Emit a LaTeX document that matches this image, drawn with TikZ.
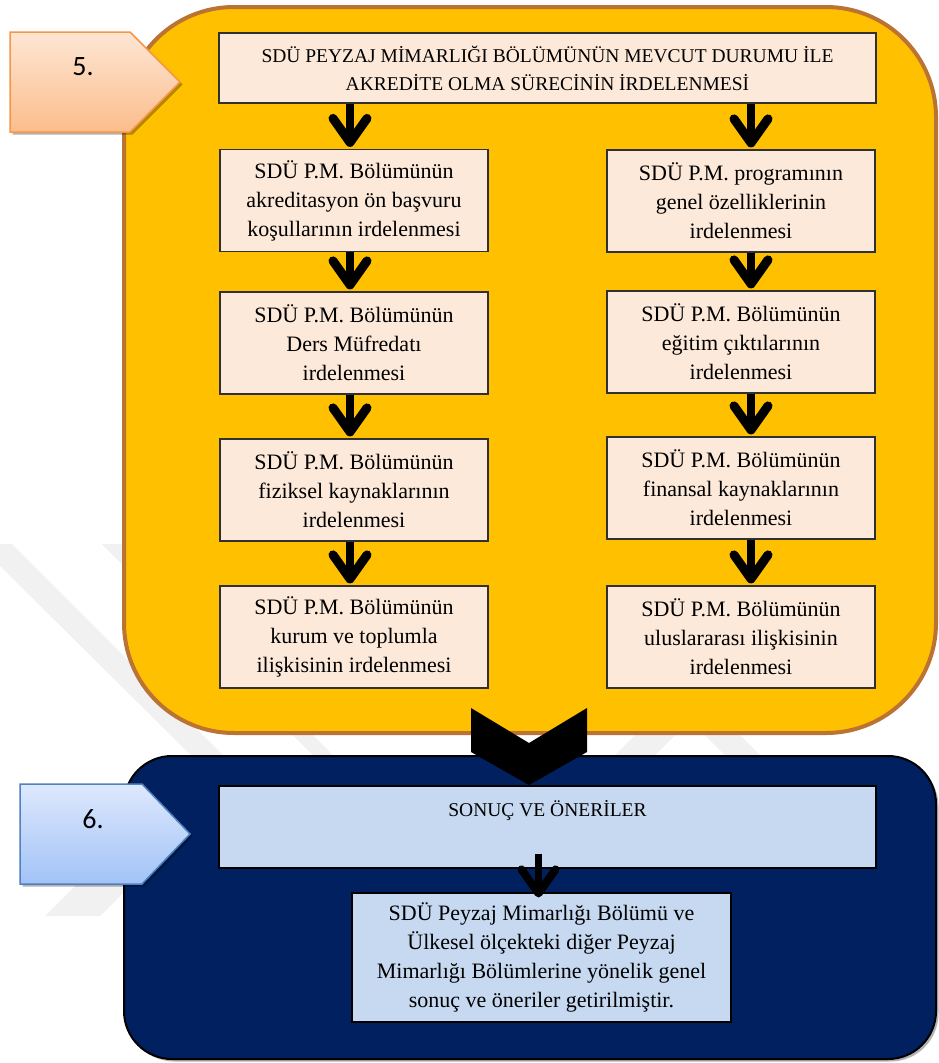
\documentclass[tikz,border=0pt]{standalone}
\usepackage{fontspec}
\setmainfont{Liberation Serif}
\newfontfamily\labelfont{Carlito}
\usetikzlibrary{arrows.meta,shadows,calc}
\definecolor{orfill}{HTML}{FFC000}
\definecolor{orline}{HTML}{BA7332}
\definecolor{peach}{HTML}{FDE9D9}
\definecolor{boxline}{HTML}{303030}
\definecolor{navy}{HTML}{002060}
\definecolor{lblue}{HTML}{C6D9F1}
\definecolor{wmark}{HTML}{F1F1F1}
\definecolor{pOtop}{HTML}{FDE6D4}
\definecolor{pObot}{HTML}{FBBD8C}
\definecolor{pOline}{HTML}{F79646}
\definecolor{pBtop}{HTML}{DDE8FD}
\definecolor{pBbot}{HTML}{A2C3F7}
\definecolor{pBline}{HTML}{4F81BD}
\tikzset{
  pbox/.style={draw=boxline, line width=1.2pt, fill=peach, minimum width=268pt,
    minimum height=102pt, inner sep=0pt, align=center, font=\fontsize{22}{29}\selectfont},
  topbox/.style={draw=boxline, line width=1.2pt, fill=peach, minimum width=657pt,
    minimum height=70pt, inner sep=0pt, align=center, font=\fontsize{19.5}{28}\selectfont},
  bluebox/.style={draw=black, line width=1.2pt, fill=lblue, inner sep=0pt, align=center},
  bigarrow/.style={line width=8pt, -{Straight Barb[length=24pt, width=34pt, line width=9pt, round]}},
  smallarrow/.style={line width=7pt, -{Straight Barb[length=24pt, width=34pt, line width=8pt, round]}},
  numlabel/.style={font=\labelfont\fontsize{28}{30}\selectfont, inner sep=0pt},
  softshadow/.style={drop shadow={shadow xshift=2.5pt, shadow yshift=-2.5pt, opacity=0.3, fill=black}}
}
\begin{document}
\begin{tikzpicture}[x=1pt,y=-1pt]
\useasboundingbox[fill=white] (0,0) rectangle (939,1063);
% faint watermark
\fill[wmark] (0,544) -- (12,544) -- (250,782) -- (218,782) -- (0,566) -- cycle;
\fill[wmark] (102,544) -- (122,544) -- (360,782) -- (340,782) -- cycle;
\fill[wmark] (45,916) -- (100,916) -- (250,766) -- (195,766) -- cycle;
\fill[wmark] (600,770) -- (640,770) -- (690,720) -- (650,720) -- cycle;
\fill[wmark] (690,720) -- (725,720) -- (775,770) -- (740,770) -- cycle;
% group frames
\draw[orline, line width=4pt, fill=orfill, rounded corners=110pt] (124,7) rectangle (936,733);
\draw[black, line width=2pt, fill=navy, rounded corners=48pt, softshadow] (124,756) rectangle (936,1059);
% step pentagons
\path[draw=pOline, line width=1.5pt, top color=pOtop, bottom color=pObot, softshadow]
  (10,32) -- (130,32) -- (180,82) -- (130,132) -- (10,132) -- cycle;
\node[numlabel] (t5) at (83,67) {5.};
\path[draw=pBline, line width=1.5pt, top color=pBtop, bottom color=pBbot, softshadow]
  (20,784) -- (142,784) -- (190,834) -- (142,884) -- (20,884) -- cycle;
\node[numlabel] (t6) at (93,819) {6.};
% boxes
\node[topbox] (top) at (547.5,68) {SDÜ PEYZAJ MİMARLIĞI BÖLÜMÜNÜN MEVCUT DURUMU İLE\\AKREDİTE OLMA SÜRECİNİN İRDELENMESİ};
\node[pbox] (l1) at (354,200.5) {SDÜ P.M. Bölümünün\\akreditasyon ön başvuru\\koşullarının irdelenmesi};
\node[pbox] (l2) at (354,343) {SDÜ P.M. Bölümünün\\Ders Müfredatı\\irdelenmesi};
\node[pbox] (l3) at (354,490) {SDÜ P.M. Bölümünün\\fiziksel kaynaklarının\\irdelenmesi};
\node[pbox] (l4) at (354,637) {SDÜ P.M. Bölümünün\\kurum ve toplumla\\ilişkisinin irdelenmesi};
\node[pbox] (r1) at (741,201) {SDÜ P.M. programının\\genel özelliklerinin\\irdelenmesi};
\node[pbox] (r2) at (741,342) {SDÜ P.M. Bölümünün\\eğitim çıktılarının\\irdelenmesi};
\node[pbox] (r3) at (741,488) {SDÜ P.M. Bölümünün\\finansal kaynaklarının\\irdelenmesi};
\node[pbox] (r4) at (741,637) {SDÜ P.M. Bölümünün\\uluslararası ilişkisinin\\irdelenmesi};
\node[bluebox, minimum width=657pt, minimum height=82pt, font=\fontsize{19.5}{29}\selectfont] (son) at (547.5,827) {SONUÇ VE ÖNERİLER\\\strut};
\node[bluebox, minimum width=379pt, minimum height=129pt, font=\fontsize{22}{29}\selectfont] (bot) at (541.5,957.5) {SDÜ Peyzaj Mimarlığı Bölümü ve\\Ülkesel ölçekteki diğer Peyzaj\\Mimarlığı Bölümlerine yönelik genel\\sonuç ve öneriler getirilmiştir.};
% arrows
\draw[bigarrow] ($(top.south -| l1.north)+(-4,0)$) -- ($(l1.north)+(-4,-2)$);
\draw[bigarrow] ($(l1.south)+(-4,0)$) -- ($(l2.north)+(-4,-2)$);
\draw[bigarrow] ($(l2.south)+(-4,0)$) -- ($(l3.north)+(-4,-2)$);
\draw[bigarrow] ($(l3.south)+(-4,0)$) -- ($(l4.north)+(-4,-2)$);
\draw[bigarrow] ($(top.south -| r1.north)+(10,0)$) -- ($(r1.north)+(10,-2)$);
\draw[bigarrow] ($(r1.south)+(10,0)$) -- ($(r2.north)+(10,-2)$);
\draw[bigarrow] ($(r2.south)+(10,0)$) -- ($(r3.north)+(10,-2)$);
\draw[bigarrow] ($(r3.south)+(10,0)$) -- ($(r4.north)+(10,-2)$);
\draw[smallarrow] ($(son.south)+(-9,-15)$) -- ($(bot.north)+(-3,5)$);
% chevron between groups
\fill[black] (471,708) -- (529,743) -- (587,708) -- (587,752) -- (529,785) -- (471,752) -- cycle;
\end{tikzpicture}
\end{document}
